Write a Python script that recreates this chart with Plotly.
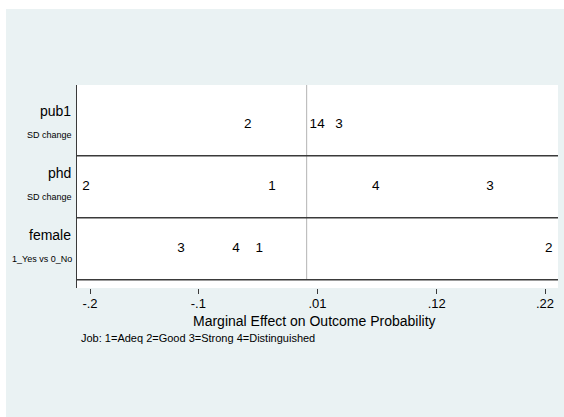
import plotly.graph_objects as go

# Discrete-change effects of each regressor on the probability of each job outcome
variables = ["pub1", "phd", "female"]
change_labels = ["SD change", "SD change", "1_Yes vs 0_No"]
outcomes = ["1", "2", "3", "4"]
effects_pub1 = [0.0062, -0.0544, 0.0299, 0.0133]
effects_phd = [-0.032, -0.2037, 0.1693, 0.0638]
effects_female = [-0.0437, 0.2235, -0.116, -0.0652]
tick_values = [-0.2, -0.1, 0.01, 0.12, 0.22]
tick_labels = ["-.2", "-.1", ".01", ".12", ".22"]

effects = [effects_pub1, effects_phd, effects_female]
row_pos = [3, 2, 1]

FONT = "Arial, Liberation Sans, sans-serif"
BG = "#eaf2f3"
W, H = 564, 417
L, R, T, B = 77, 6, 85, 129
pw, ph = W - L - R, H - T - B

def px_x(p):
    return (p - L) / pw

def px_y(p):
    return (H - B - p) / ph

fig = go.Figure()

for vals, yrow in zip(effects, row_pos):
    fig.add_trace(go.Scatter(
        x=vals, y=[yrow] * len(vals), mode="text", text=outcomes,
        textposition="middle center",
        textfont=dict(family=FONT, size=13.5, color="#000000"),
        hoverinfo="skip", showlegend=False,
    ))

shapes = [
    # graph region background
    dict(type="rect", xref="paper", yref="paper", x0=px_x(6), x1=px_x(W + 5),
         y0=px_y(H + 5), y1=px_y(9), fillcolor=BG, line_width=0, layer="below"),
    # white plot region
    dict(type="rect", xref="paper", yref="paper", x0=0, x1=1, y0=0, y1=1,
         fillcolor="white", line_width=0, layer="below"),
    # reference line at zero
    dict(type="line", xref="x", yref="y", x0=0, x1=0, y0=0.5, y1=3.64,
         line=dict(color="#b4b4b4", width=1), layer="below"),
]
for yb in [2.5, 1.5, 0.5]:
    shapes.append(dict(type="line", xref="paper", yref="y", x0=0, x1=1, y0=yb, y1=yb,
                       line=dict(color="#3a3a3a", width=1.4)))

annotations = []
for name, sub, yrow in zip(variables, change_labels, row_pos):
    annotations.append(dict(text=name, xref="paper", yref="y", x=0, y=yrow + 0.22,
                            xanchor="right", yanchor="middle", xshift=-4, showarrow=False,
                            font=dict(family=FONT, size=14, color="#000000")))
    annotations.append(dict(text=sub, xref="paper", yref="y", x=0, y=yrow - 0.17,
                            xanchor="right", yanchor="middle", xshift=-3, showarrow=False,
                            font=dict(family=FONT, size=9, color="#000000")))

annotations.append(dict(text="Marginal Effect on Outcome Probability", xref="paper", yref="paper",
                        x=px_x(314.5), y=px_y(321), xanchor="center", yanchor="middle",
                        showarrow=False, font=dict(family=FONT, size=14, color="#000000")))
annotations.append(dict(text="Job: 1=Adeq 2=Good 3=Strong 4=Distinguished", xref="paper", yref="paper",
                        x=px_x(79), y=px_y(338), xanchor="left", yanchor="middle",
                        showarrow=False, font=dict(family=FONT, size=11, color="#000000")))

fig.update_layout(
    width=W, height=H,
    margin=dict(l=L, r=R, t=T, b=B, pad=0),
    paper_bgcolor="white", plot_bgcolor="rgba(0,0,0,0)",
    shapes=shapes, annotations=annotations,
    xaxis=dict(range=[-0.212, 0.232], tickvals=tick_values, ticktext=tick_labels,
               ticks="outside", ticklen=5, tickwidth=1, tickcolor="#3a3a3a",
               ticklabelstandoff=-2,
               showgrid=False, zeroline=False, showline=False,
               tickfont=dict(family=FONT, size=13, color="#000000"), fixedrange=True),
    yaxis=dict(range=[0.366, 3.64], showticklabels=False, ticks="", showgrid=False,
               zeroline=False, showline=True, linecolor="#3a3a3a", linewidth=1.4,
               fixedrange=True),
)

fig.write_html("out.html")
